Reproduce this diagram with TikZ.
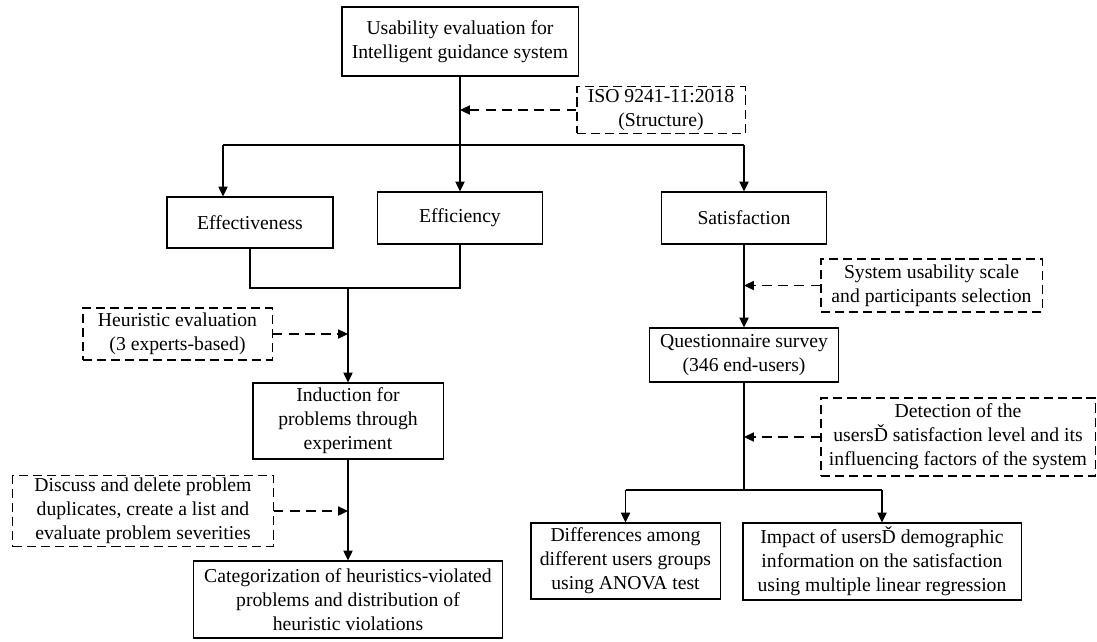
\documentclass[tikz,border=0pt]{standalone}
\usepackage{fontspec}
\setmainfont{Liberation Serif}
\usetikzlibrary{arrows.meta}

\tikzset{
  box/.style={draw, line width=0.75pt, align=center, inner sep=2pt,
    font=\fontsize{14}{17}\selectfont},
  dbox/.style={box, dash pattern=on 6.5pt off 3.5pt},
  flow/.style={line width=1.1pt, -{Triangle[length=7pt,width=6.5pt]}},
  link/.style={line width=1.1pt},
  hint/.style={line width=0.9pt, dash pattern=on 7pt off 4.5pt,
    -{Triangle[length=7pt,width=6.5pt]}}
}

\begin{document}
\begin{tikzpicture}[x=0.025cm, y=-0.025cm]

  \useasboundingbox (0,0) rectangle (1097,641);

  % boxes
  \node[box, minimum width=5.9cm, minimum height=1.725cm] (top) at (460,41.5)
    {Usability evaluation for\\Intelligent guidance system};
  \node[dbox, minimum width=4.2cm, minimum height=1.1cm] (iso) at (661,110)
    {ISO 9241-11:2018\\(Structure)};

  \node[box, minimum width=4.15cm, minimum height=1.275cm] (effect) at (250,222.5) {Effectiveness};
  \node[box, minimum width=4.125cm, minimum height=1.3cm] (effic) at (460,218) {Efficiency};
  \node[box, minimum width=4.125cm, minimum height=1.3cm] (satis) at (744,218) {Satisfaction};

  \node[dbox, minimum width=4.725cm, minimum height=1.3cm] (heur) at (177.5,334)
    {Heuristic evaluation\\(3 experts-based)};
  \node[box, minimum width=4.75cm, minimum height=1.9cm] (induct) at (348,421)
    {Induction for\\problems through\\experiment};
  \node[dbox, minimum width=6.5cm, minimum height=1.75cm] (discuss) at (143,511)
    {Discuss and delete problem\\duplicates, create a list and\\evaluate problem severities};
  \node[box, minimum width=7.7cm, minimum height=1.925cm] (categ) at (348,599.5)
    {Categorization of heuristics-violated\\problems and distribution of\\heuristic violations};

  \node[dbox, minimum width=5.525cm, minimum height=1.325cm] (sus) at (931.5,285.5)
    {System usability scale\\and participants selection};
  \node[box, minimum width=4.725cm, minimum height=1.35cm] (quest) at (744,355)
    {Questionnaire survey\\(346 end-users)};
  \node[dbox, minimum width=6.85cm, minimum height=1.95cm] (detect) at (958,437)
    {Detection of the\\usersĎ satisfaction level and its\\influencing factors of the system};
  \node[box, minimum width=4.725cm, minimum height=1.9cm] (diffs) at (625.5,561)
    {Differences among\\different users groups\\using ANOVA test};
  \node[box, minimum width=6.95cm, minimum height=1.925cm] (impact) at (882,561.5)
    {Impact of usersĎ demographic\\information on the satisfaction\\using multiple linear regression};

  % split below the top box
  \coordinate (splitl) at (223,145);
  \coordinate (splitr) at (744,145);
  \draw[flow] (top) -- (effic);
  \draw[link] (splitl) -- (splitr);
  \draw[flow] (splitl) -- (splitl |- effect.north);
  \draw[flow] (splitr) -- (satis);
  \draw[hint] (iso.west) -- (iso.west -| top.south);

  % left branch
  \coordinate (joinl) at (250,288);
  \coordinate (joinr) at (460,288);
  \coordinate (joinm) at (348,288);
  \draw[link] (effect.south) -- (joinl) -- (joinr) -- (effic.south);
  \draw[flow] (joinm) -- (induct);
  \draw[hint] (heur.east) -- (heur.east -| induct.north);
  \draw[flow] (induct) -- (categ.north -| induct.south);
  \draw[hint] (discuss.east) -- (discuss.east -| induct.south);

  % right branch
  \draw[flow] (satis) -- (quest);
  \draw[hint] (sus.west) -- (sus.west -| quest.north);
  \coordinate (forkl) at (625.5,490);
  \coordinate (forkr) at (882,490);
  \draw[link] (quest.south) -- (quest.south |- forkl);
  \draw[link] (forkl) -- (forkr);
  \draw[flow] (forkl) -- (diffs);
  \draw[flow] (forkr) -- (impact);
  \draw[hint] (detect.west) -- (detect.west -| quest.south);

\end{tikzpicture}
\end{document}
